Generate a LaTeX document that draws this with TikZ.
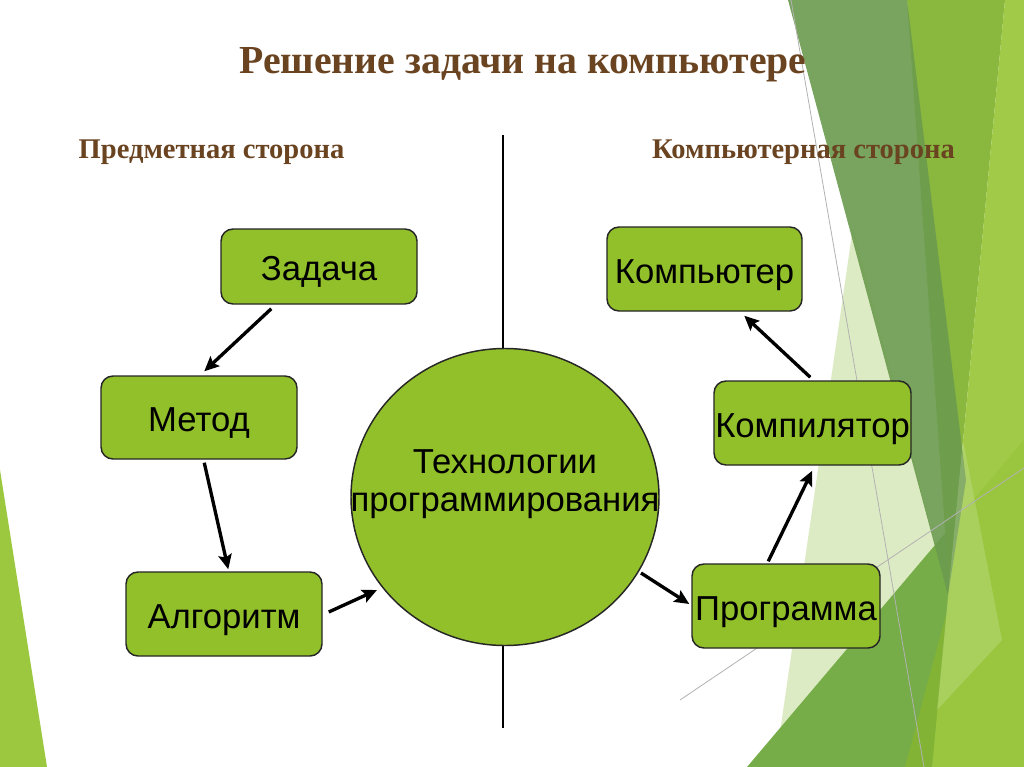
\documentclass[tikz,border=0pt]{standalone}
\usepackage{fontspec}
\setmainfont{Liberation Serif}
\newfontfamily\arialf{Liberation Sans}
\usetikzlibrary{arrows.meta,calc,shapes.geometric}
\definecolor{boxgreen}{RGB}{146,192,42}
\definecolor{titlebrown}{RGB}{106,68,33}
\definecolor{bgdark}{RGB}{107,155,78}
\definecolor{bgmed}{RGB}{132,180,52}
\definecolor{bgbright}{RGB}{155,200,62}
\definecolor{bgtri}{RGB}{118,173,72}
\definecolor{bgpale}{RGB}{221,235,196}
\tikzset{
  box/.style={draw=black!85, line width=1.1pt, fill=boxgreen, rounded corners=9pt,
    inner sep=0pt, text height=23pt, text depth=2pt,
    font=\arialf\fontsize{26}{30}\selectfont, text=black},
  arr/.style={line width=2.5pt, -{Stealth[length=11pt,width=10pt,inset=2pt]}},
  facet/.style={draw=none},
  thinline/.style={draw=black!30, line width=0.6pt},
  ttl/.style={font=\bfseries\fontsize{29.8}{34}\selectfont, text=titlebrown, inner sep=0pt},
  sub/.style={font=\bfseries\fontsize{21.4}{25}\selectfont, text=titlebrown, inner sep=0pt}
}
\begin{document}
\begin{tikzpicture}[x=0.75pt,y=-0.75pt]
\useasboundingbox (0,0) rectangle (1024,767);
\fill[white] (0,0) rectangle (1024,767);
% background facets
\fill[facet, bgpale] (853,227) -- (775,767) -- (955,767) -- (950,600) -- cycle;
\fill[facet, bgtri] (747,767) -- (1024,440) -- (1024,767) -- cycle;
\fill[facet, bgmed, opacity=0.95] (907,0) -- (1005,0) -- (932,767) -- (905,767) -- (950,600) -- cycle;
\fill[facet, bgbright, opacity=0.95] (1005,0) -- (1024,0) -- (1024,767) -- (932,767) -- cycle;
\fill[facet, bgdark, opacity=0.9] (788,0) -- (907,0) -- (966,480) -- (948,595) -- cycle;
\fill[facet, white, opacity=0.16] (963,440) -- (1002,640) -- (937,710) -- cycle;
\fill[facet, bgbright] (0,470) -- (47,767) -- (0,767) -- cycle;
\coordinate (la) at (791,0);
\coordinate (lb) at (924,767);
\coordinate (lc) at (680,700);
\coordinate (ld) at (1024,468);
\draw[thinline] (la) -- (lb);
\draw[thinline] (lc) -- (ld);
% titles
\node[ttl] (title) at (523,65) {Решение задачи на компьютере};
\node[sub] (left) at (211.5,152) {Предметная сторона};
\node[sub] (right) at (803.5,152) {Компьютерная сторона};
% divider
\coordinate (vt) at (503,135);
\coordinate (vb) at (503,728);
\draw[black, line width=0.9pt] (vt) -- (vb);
% nodes
\node[box, minimum width=147pt, minimum height=56.25pt] (zad) at (319,266.5) {Задача};
\node[box, minimum width=147pt, minimum height=62.25pt] (met) at (199,417.5) {Метод};
\node[box, minimum width=147pt, minimum height=63pt] (alg) at (224,614) {Алгоритм};
\node[box, minimum width=146.25pt, minimum height=63pt] (comp) at (704.5,269) {Компьютер};
\node[box, minimum width=147.75pt, minimum height=63pt] (compil) at (812.5,423) {Компилятор};
\node[box, minimum width=141pt, minimum height=63pt] (prog) at (786,606) {Программа};
\node[draw=black!85, line width=1.1pt, fill=boxgreen, ellipse, inner sep=0pt,
  minimum width=231pt, minimum height=222.75pt] (tech) at (505,497) {};
\node[inner sep=0pt, align=center, font=\arialf\fontsize{26}{28.5}\selectfont]
  (techtxt) at (505,484) {Технологии\\программирования};
% arrows
\draw[arr] ($(zad.south west)+(51,4)$) -- ($(met.north west)+(104,-4)$);
\draw[arr] ($(met.south west)+(104,3)$) -- ($(alg.north west)+(103,-2)$);
\draw[arr] ($(alg.east)+(6,-2)$) -- ($(tech.center)+(-128,93)$);
\draw[arr] ($(tech.center)+(136,76)$) -- ($(prog.west)+(-2,-2)$);
\draw[arr] ($(prog.north west)+(77,-2)$) -- ($(compil.south west)+(99,5)$);
\draw[arr] ($(compil.north west)+(97,-3)$) -- ($(comp.south west)+(138,4)$);
\end{tikzpicture}
\end{document}
